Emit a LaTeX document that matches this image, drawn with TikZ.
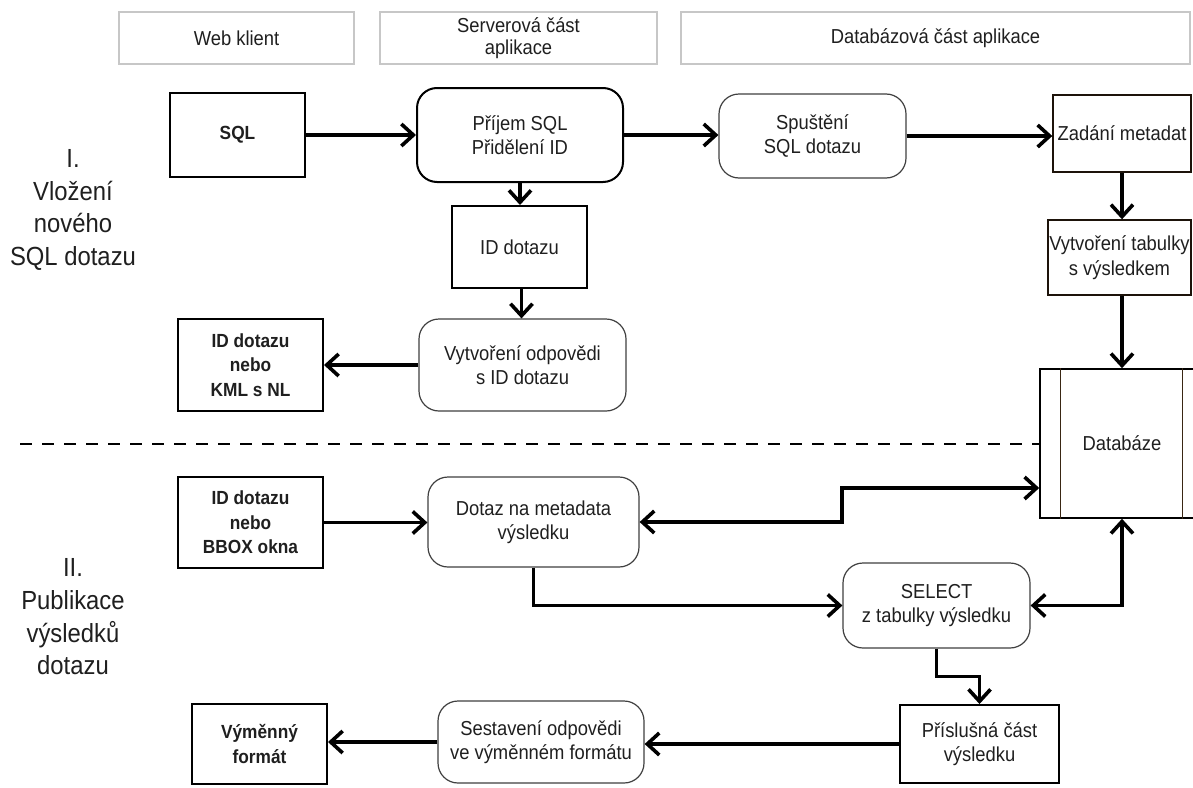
\documentclass[tikz,border=0pt]{standalone}
\usepackage{fontspec}
\setmainfont{Liberation Sans}[FakeStretch=0.91]
\usetikzlibrary{arrows.meta}
\begin{document}
\begin{tikzpicture}[x=0.5pt,y=-0.5pt,
  txt/.style={font=\fontsize{10.1}{12.2}\selectfont, text=black!88, align=center, inner sep=0pt},
  hdrtxt/.style={font=\fontsize{10.1}{11.2}\selectfont},
  bold/.style={font=\fontsize{9.5}{12.2}\selectfont\bfseries},
  hdr/.style={txt, hdrtxt, draw=black!22, line width=0.8pt},
  rbox/.style={txt, draw=black!75, line width=0.6pt, rounded corners=10pt},
  rboxthick/.style={txt, draw=black, line width=1pt, rounded corners=10pt},
  sbox/.style={txt, draw=black, line width=1pt},
  dbbox/.style={txt, draw=black!85!brown, line width=0.7pt},
  phase/.style={font=\fontsize{13.1}{16.3}\selectfont, text=black!88, align=center, inner sep=0pt},
  tip/.tip={Straight Barb[length=6pt,width=11pt]},
  flow/.style={line width=1.8pt, -tip},
  flowboth/.style={line width=1.8pt, tip-tip},
]
\clip (0,0) rectangle (1193,787);
\fill[white] (0,0) rectangle (1193,787);

% column headers
\node[hdr, minimum width=117.5pt, minimum height=26pt] (hweb) at (236.5,38) {Web klient};
\node[hdr, minimum width=138.5pt, minimum height=26pt] (hsrv) at (518.5,38) {Serverová část\\aplikace};
\node[hdr, minimum width=254.5pt, minimum height=26pt] (hdb) at (935.5,38) {Databázová část aplikace};

% phase labels
\node[phase] (ph1) at (73,210) {I.\\Vložení\\nového\\SQL dotazu};
\node[phase] (ph2) at (73,617) {II.\\Publikace\\výsledků\\dotazu};

% phase I
\node[sbox, bold, minimum width=67.5pt, minimum height=42pt] (sql) at (237.5,135) {SQL};
\node[rboxthick, minimum width=103pt, minimum height=47pt] (prijem) at (520,135) {Příjem SQL\\Přidělení ID};
\node[rbox, minimum width=93.5pt, minimum height=42pt] (spust) at (812.5,136) {Spuštění\\SQL dotazu};
\node[dbbox, minimum width=69pt, minimum height=38.5pt] (zadani) at (1122,133.5) {Zadání metadat};
\node[sbox, minimum width=67.5pt, minimum height=41pt] (iddot) at (519.5,247) {ID dotazu};
\node[dbbox, minimum width=71.5pt, minimum height=37.5pt] (vytvtab) at (1119.5,257.5) {Vytvoření tabulky\\s výsledkem};
\node[rbox, minimum width=103.5pt, minimum height=46pt] (vytvodp) at (522.5,365) {Vytvoření odpovědi\\s ID dotazu};
\node[sbox, bold, minimum width=72.5pt, minimum height=46pt] (idkml) at (250.5,365) {ID dotazu\\nebo\\KML s NL};

% database
\node[draw=black, line width=0.8pt, minimum width=82pt, minimum height=74.5pt, txt] (db) at (1122,443.5) {Databáze};
\draw[black!70!brown, line width=0.5pt] ([xshift=10.5pt]db.north west) -- ([xshift=10.5pt]db.south west);
\draw[black!70!brown, line width=0.5pt] ([xshift=-11pt]db.north east) -- ([xshift=-11pt]db.south east);

% phase separator
\coordinate (sepL) at (20,444);
\draw[line width=1pt, dash pattern=on 6pt off 5pt] (sepL) -- (sepL -| db.west);

% phase II
\node[sbox, bold, minimum width=72.5pt, minimum height=45.5pt] (idbbox) at (250.5,522.5) {ID dotazu\\nebo\\BBOX okna};
\node[rbox, minimum width=105.5pt, minimum height=45pt] (dotaz) at (533.5,522) {Dotaz na metadata\\výsledku};
\node[rbox, minimum width=93.5pt, minimum height=42.5pt] (select) at (936.5,605.5) {SELECT\\z tabulky výsledku};
\node[sbox, minimum width=79.5pt, minimum height=39pt] (prisl) at (979.5,744) {Příslušná část\\výsledku};
\node[rbox, minimum width=103pt, minimum height=41pt] (sestav) at (541,742) {Sestavení odpovědi\\ve výměnném formátu};
\node[sbox, bold, minimum width=67.5pt, minimum height=40pt] (vymen) at (259.5,744) {Výměnný\\formát};

% connectors, phase I
\draw[flow] (sql) -- (prijem);
\draw[flow] (prijem.east) -- (prijem.east -| spust.west);
\draw[flow] (spust.east) -- (spust.east -| zadani.west);
\draw[flow] (prijem.south) -- (prijem.south |- iddot.north);
\draw[flow] ([xshift=1pt]iddot.south) -- ([xshift=1pt]iddot.south |- vytvodp.north);
\draw[flow] (vytvodp.west) -- (vytvodp.west -| idkml.east);
\draw[flow] (zadani.south) -- (zadani.south |- vytvtab.north);
\draw[flow] (zadani.south |- vytvtab.south) -- (zadani.south |- db.north);

% connectors, phase II
\coordinate (step) at (842,488);
\draw[flow] (idbbox.east) -- (idbbox.east -| dotaz.west);
\draw[flowboth] (dotaz.east) -| (step) -- (step -| db.west);
\draw[flow] (dotaz.south) |- (select.west);
\draw[flowboth] (db.south) |- (select.east);
\draw[flow] (select.south) -- ++(0,28) -| (prisl.north);
\draw[flow] (prisl.west) -- (prisl.west -| sestav.east);
\draw[flow] (sestav.west) -- (sestav.west -| vymen.east);
\end{tikzpicture}
\end{document}
